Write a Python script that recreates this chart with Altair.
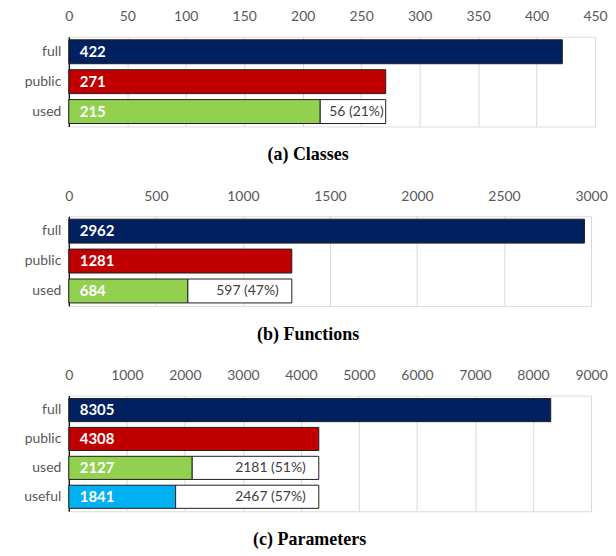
import altair as alt
import pandas as pd

# ---- data ----
cats_a = ["full", "public", "used"]
vals_a = [422, 271, 215]
cats_b = ["full", "public", "used"]
vals_b = [2962, 1281, 684]
cats_c = ["full", "public", "used", "useful"]
vals_c = [8305, 4308, 2127, 1841]
bar_colors = ["#002060", "#C00000", "#92D050", "#00B0F0"]
titles = ["(a) Classes", "(b) Functions", "(c) Parameters"]
domains = [450, 3000, 9000]
steps = [50, 500, 1000]

LABEL_COLOR = "#595959"
STROKE = "#1f1f1f"


def panel(cats, vals, dmax, step, width, height, title, extent, rem_dx):
    df = pd.DataFrame({"cat": cats, "val": vals, "color": bar_colors[: len(cats)]})
    public = vals[1]
    rem = df.iloc[2:].copy()
    rem["end"] = public
    rem["label"] = [
        f"{public - v} ({round((public - v) / public * 100)}%)" for v in rem["val"]
    ]

    y = alt.Y(
        "cat:N",
        sort=cats,
        scale=alt.Scale(paddingInner=0.2, paddingOuter=0.1),
        axis=alt.Axis(
            title=None, ticks=False, domain=True, domainColor="#000000",
            domainWidth=1.2, grid=False, labelFont="Lato", labelFontSize=14,
            labelColor=LABEL_COLOR, labelPadding=8,
            minExtent=extent, maxExtent=extent,
        ),
    )
    xscale = alt.Scale(domain=[0, dmax], nice=False)
    xaxis = alt.Axis(
        orient="top", values=list(range(0, dmax + 1, step)), title=None,
        ticks=False, tickSize=0, domain=False, grid=True, gridColor="#D9D9D9",
        labelFont="Lato", labelFontSize=14, labelColor=LABEL_COLOR,
        labelPadding=13, format="d", labelFlush=False,
    )

    base = alt.Chart(df)
    bars = base.mark_bar(stroke=STROKE, strokeWidth=1).encode(
        y=y,
        x=alt.X("val:Q", scale=xscale, axis=xaxis),
        color=alt.Color("color:N", scale=None, legend=None),
    )
    rem_bars = alt.Chart(rem).mark_bar(fill="white", stroke=STROKE, strokeWidth=1).encode(
        y=alt.Y("cat:N", sort=cats), x=alt.X("val:Q"), x2="end:Q"
    )
    vtext = base.mark_text(
        align="left", baseline="middle", dx=11, font="Lato", fontWeight="bold",
        fontSize=15, color="white",
    ).encode(y=alt.Y("cat:N", sort=cats), x=alt.datum(0), text="val:N")
    rtext = alt.Chart(rem).mark_text(
        align="right", baseline="middle", dx=-rem_dx, font="Lato",
        fontSize=14, color="#404040",
    ).encode(y=alt.Y("cat:N", sort=cats), x=alt.X("end:Q"), text="label:N")

    return alt.layer(bars, rem_bars, vtext, rtext).properties(
        width=width,
        height=height,
        title=alt.TitleParams(
            title, orient="bottom", font="Liberation Serif", fontSize=18,
            fontWeight="bold", color="#000000", offset=20, frame="bounds",
        ),
    )


pa = panel(cats_a, vals_a, domains[0], steps[0], 528, 90, titles[0], 60, 2)
pb = panel(cats_b, vals_b, domains[1], steps[1], 524, 90, titles[1], 60, 13)
pc = panel(cats_c, vals_c, domains[2], steps[2], 524, 116, titles[2], 57, 13)

chart = alt.concat(pa, pb, pc, columns=1, spacing=23, align="none").properties(
    padding={"left": 0, "top": 0, "right": 0, "bottom": 0}
).configure_view(stroke=None).configure(background="white")

chart.save("out.html", embed_options={"renderer": "svg", "actions": False})
